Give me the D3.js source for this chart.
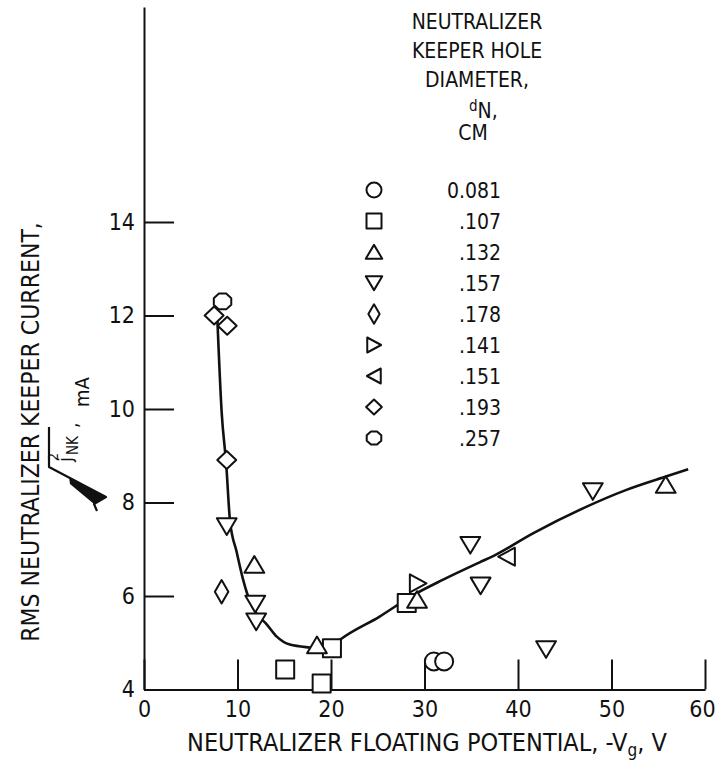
<!doctype html>
<html>
<head>
<meta charset="utf-8"/>
<style>
    html, body {
        margin: 0;
        padding: 0;
        background: #fff;
    }
    svg {
        display: block;
    }
    text {
        font-family: "Liberation Sans Narrow", "DejaVu Sans Condensed", "DejaVu Sans", sans-serif;
        fill: #111;
    }
    .axis path, .axis line {
        fill: none;
        stroke: #111;
        stroke-width: 2;
    }
    .axis text {
        font-size: 23px;
    }
    .fit {
        fill: none;
        stroke: #111;
        stroke-width: 2.6;
    }
    .mark {
        fill: #fff;
        stroke: #111;
        stroke-width: 2;
        stroke-linejoin: round;
    }
    .title {
        font-size: 25px;
    }
    .legend text {
        font-size: 21px;
    }
</style>
<script src="https://d3js.org/d3.v7.min.js"></script>
</head>
<body>
<svg width="716" height="765"></svg>

<script>
    // ---- data ----
    var xTicks = [0, 10, 20, 30, 40, 50, 60];
    var yTicks = [4, 6, 8, 10, 12, 14];

    var diameters = ["0.081", ".107", ".132", ".157", ".178", ".141", ".151", ".193", ".257"];
    var shapes = ["circle", "square", "up", "down", "narrow", "right", "left", "diamond", "octagon"];

    // [-Vg, rms current] per keeper hole diameter
    var pts081 = [[31.0, 4.6], [32.1, 4.6]];
    var pts107 = [[15.1, 4.43], [19.0, 4.13], [20.1, 4.88], [28.1, 5.85]];
    var pts132 = [[11.8, 6.67], [18.5, 4.95], [29.2, 5.92], [55.8, 8.38]];
    var pts157 = [[8.85, 7.49], [11.9, 5.83], [12.0, 5.45], [34.9, 7.09], [36.0, 6.22], [43.0, 4.86], [48.0, 8.24]];
    var pts178 = [[8.3, 6.09]];
    var pts141 = [[29.3, 6.27]];
    var pts151 = [[38.8, 6.84]];
    var pts193 = [[7.5, 12.0], [8.9, 11.78], [8.85, 8.91]];
    var pts257 = [[8.4, 12.3]];

    // faired curve through the data
    var fitCurve = [[7.85, 11.9], [8.3, 9.95], [8.8, 8.8], [9.2, 7.6], [9.9, 6.95], [10.6, 6.35], [11.3, 5.9],
        [12.05, 5.62], [13.1, 5.4], [14.2, 5.13], [15.6, 4.96], [17.7, 4.9], [19.3, 4.88], [20.3, 4.96],
        [21.0, 5.07], [25.2, 5.56], [28.8, 6.02], [32.0, 6.35], [35.9, 6.72], [37.4, 6.86], [41.6, 7.34],
        [47.0, 7.88], [51.6, 8.27], [55.9, 8.56], [58.2, 8.71]];

    var allPoints = [pts081, pts107, pts132, pts157, pts178, pts141, pts151, pts193, pts257];
    var series = diameters.map(function(d, i) {
        return {dia: d, shape: shapes[i], points: allPoints[i]};
    });

    // ---- drawing ----
    var svg = d3.select("svg");

    var x = d3.scaleLinear().domain([0, 60]).range([144, 705]);
    var y = d3.scaleLinear().domain([4, 18.6]).range([689.5, 6.95]);

    function shapePath(t, r) {
        var w;
        switch (t) {
            case "circle":
                return "M" + (-r) + ",0A" + r + "," + r + " 0 1,0 " + r + ",0A" + r + "," + r + " 0 1,0 " + (-r) + ",0Z";
            case "square":
                return "M" + (-r) + "," + (-r) + "H" + r + "V" + r + "H" + (-r) + "Z";
            case "up":
                return "M0," + (-r * 0.95) + "L" + (r * 1.1) + "," + (r * 0.9) + "L" + (-r * 1.1) + "," + (r * 0.9) + "Z";
            case "down":
                return "M0," + (r * 0.95) + "L" + (r * 1.1) + "," + (-r * 0.9) + "L" + (-r * 1.1) + "," + (-r * 0.9) + "Z";
            case "right":
                return "M" + (r * 0.95) + ",0L" + (-r * 0.9) + "," + (-r) + "L" + (-r * 0.9) + "," + r + "Z";
            case "left":
                return "M" + (-r * 0.95) + ",0L" + (r * 0.9) + "," + (-r) + "L" + (r * 0.9) + "," + r + "Z";
            case "narrow":
                w = r * 0.75;
                return "M0," + (-r * 1.3) + "L" + w + ",0L0," + (r * 1.3) + "L" + (-w) + ",0Z";
            case "diamond":
                return "M0," + (-r) + "L" + (r * 1.05) + ",0L0," + r + "L" + (-r * 1.05) + ",0Z";
            case "octagon":
                var pts = d3.range(8).map(function(k) {
                    var a = Math.PI / 8 + k * Math.PI / 4;
                    return [r * 1.05 * Math.cos(a), r * 0.95 * Math.sin(a)];
                });
                return "M" + pts.join("L") + "Z";
        }
    }

    // axes
    var yAxis = svg.append("g")
        .attr("class", "axis")
        .attr("transform", "translate(144,0)")
        .call(d3.axisLeft(y).tickValues(yTicks).tickSize(-30).tickSizeOuter(0).tickPadding(9).tickFormat(d3.format("d")));

    var xAxis = svg.append("g")
        .attr("class", "axis")
        .attr("transform", "translate(0,689.5)")
        .call(d3.axisBottom(x).tickValues(xTicks).tickSize(-30).tickSizeOuter(0).tickPadding(11).tickFormat(d3.format("d")));

    yAxis.attr("font-family", null).attr("font-size", null);
    xAxis.attr("font-family", null).attr("font-size", null);
    // the last label sits right at the page edge, nudge it in a little
    xAxis.selectAll(".tick text").filter(function(d) { return d === 60; }).attr("dx", -3);

    // faired curve
    var line = d3.line()
        .x(function(d) { return x(d[0]); })
        .y(function(d) { return y(d[1]); })
        .curve(d3.curveMonotoneX);

    svg.append("path")
        .attr("class", "fit")
        .attr("d", line(fitCurve));

    // data symbols
    series.forEach(function(s) {
        svg.append("g").selectAll("path")
            .data(s.points).enter().append("path")
            .attr("class", "mark")
            .attr("transform", function(d) { return "translate(" + x(d[0]) + "," + y(d[1]) + ")"; })
            .attr("d", shapePath(s.shape, 9));
    });

    // legend
    var legend = svg.append("g").attr("class", "legend");
    var head = [["NEUTRALIZER", 29], ["KEEPER HOLE", 58], ["DIAMETER,", 87]];
    head.forEach(function(h) {
        legend.append("text").attr("x", 477).attr("y", h[1]).attr("text-anchor", "middle").text(h[0]);
    });
    var dn = legend.append("text").attr("x", 469).attr("y", 111);
    dn.append("tspan").style("font-size", "15px").text("d");
    dn.append("tspan").attr("dy", 7).text("N,");
    legend.append("text").attr("x", 473).attr("y", 140).attr("text-anchor", "middle").text("CM");

    var rows = legend.selectAll("g.row")
        .data(series).enter().append("g")
        .attr("class", "row")
        .attr("transform", function(d, i) { return "translate(0," + (190 + 31 * i) + ")"; });
    rows.append("path")
        .attr("class", "mark")
        .attr("transform", "translate(374,0)")
        .attr("d", function(d) { return shapePath(d.shape, 7.5); });
    rows.append("text")
        .attr("x", 501)
        .attr("y", 8)
        .attr("text-anchor", "end")
        .text(function(d) { return d.dia; });

    // x title
    var xt = svg.append("text")
        .attr("class", "title")
        .attr("x", 427)
        .attr("y", 751)
        .attr("text-anchor", "middle");
    xt.append("tspan").text("NEUTRALIZER FLOATING POTENTIAL, -V");
    xt.append("tspan").attr("dy", 5).style("font-size", "17px").text("g");
    xt.append("tspan").attr("dy", -5).text(", V");

    // y title, first line
    svg.append("text")
        .attr("class", "title")
        .attr("transform", "translate(39,432) rotate(-90)")
        .attr("text-anchor", "middle")
        .style("font-size", "24.5px")
        .text("RMS NEUTRALIZER KEEPER CURRENT,");

    // y title, second line: sqrt of mean j^2_NK, mA
    var yt = svg.append("g").attr("transform", "translate(89,507) rotate(-90)");
    yt.append("path")
        .attr("d", "M-4,8L3,5L10,17L40,-40L80,-40")
        .attr("fill", "none")
        .attr("stroke", "#111")
        .attr("stroke-width", 2.2)
        .attr("stroke-linejoin", "round");
    yt.append("path")
        .attr("d", "M3,5L10,17L30,-20L23,-19Z")
        .attr("fill", "#111");
    yt.append("text").attr("x", 45).attr("y", -17).style("font-size", "20px").text("j");
    yt.append("text").attr("x", 46).attr("y", -31).style("font-size", "14px").text("2");
    yt.append("text").attr("x", 52).attr("y", -11).style("font-size", "15px").text("NK");
    yt.append("text").attr("x", 79).attr("y", -11).style("font-size", "19px").text(",");
    yt.append("text").attr("x", 100).attr("y", 0).style("font-size", "20px").text("mA");
</script>
</body>
</html>
